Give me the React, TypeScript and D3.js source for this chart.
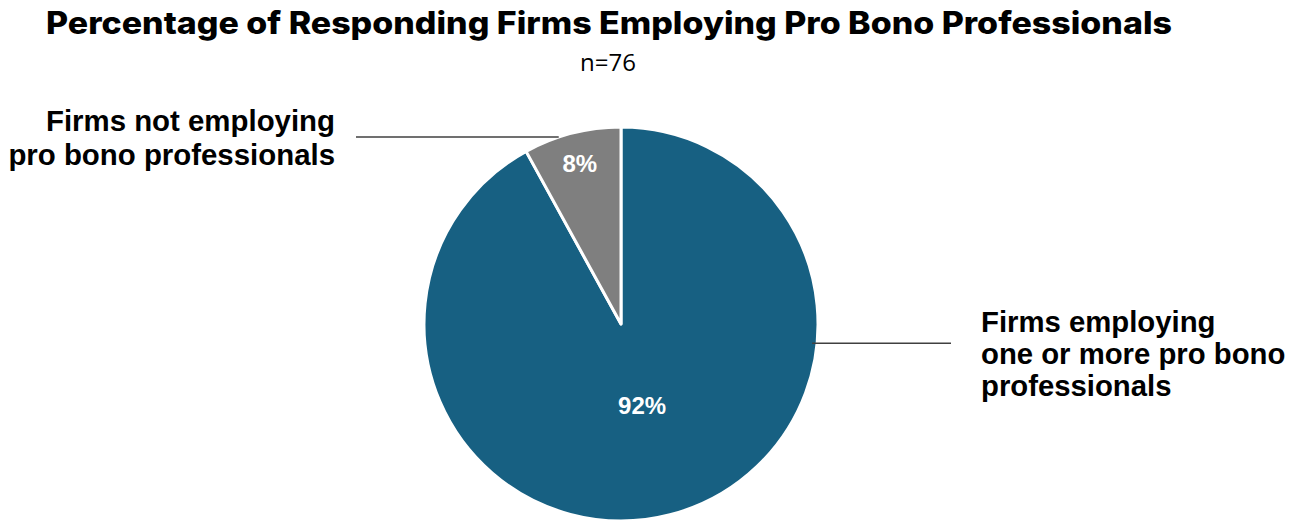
import React from "react";
import * as d3 from "d3";

const categories = ["Firms employing one or more pro bono professionals", "Firms not employing pro bono professionals"];
const values = [92, 8];
const valueLabels = ["92%", "8%"];
const colors = ["#176082", "#7f7f7f"];
const labelLines = [
  ["Firms employing", "one or more pro bono", "professionals"],
  ["Firms not employing", "pro bono professionals"],
];
const title = "Percentage of Responding Firms Employing Pro Bono Professionals";
const subtitle = "n=76";

const W = 1302;
const H = 521;
const cx = 621;
const cy = 324;
const R = 197;

export default function App() {
  const pie = d3.pie<number>().sort(null).startAngle(0).endAngle(2 * Math.PI);
  const arcs = pie(values);
  const arc = d3.arc<d3.PieArcDatum<number>>().innerRadius(0).outerRadius(R);
  const pt = (a: number, r: number) => [Math.sin(a) * r, -Math.cos(a) * r];

  const labelR = [0.43, 0.84];
  const leaders = [
    { a: arcs[0].startAngle + (arcs[0].endAngle - arcs[0].startAngle) * 0.289, r: 0.975, x2: 951 - cx },
    { a: arcs[1].startAngle + (arcs[1].endAngle - arcs[1].startAngle) * 0.36, r: 1.0, x2: 356 - cx },
  ];

  return (
    <svg width={W} height={H} style={{ display: "block", position: "absolute", left: 0, top: 0 }}>
      <rect width={W} height={H} fill="#ffffff" />
      <text
        x={609}
        y={34}
        textAnchor="middle"
        fontFamily="Inter, Roboto, sans-serif"
        fontWeight={800}
        fontSize={31}
        textLength={1126}
        lengthAdjust="spacingAndGlyphs"
        fill="#000"
      >
        {title}
      </text>
      <text x={608} y={71} textAnchor="middle" fontFamily="'Open Sans', sans-serif" fontWeight={400} fontSize={24} fill="#000">
        {subtitle}
      </text>
      <g transform={`translate(${cx},${cy})`}>
        {arcs.map((d, i) => (
          <path key={categories[i]} d={arc(d) || ""} fill={colors[i]} stroke="#ffffff" strokeWidth={3} strokeLinejoin="round" />
        ))}
        {arcs.map((d, i) => {
          const m = (d.startAngle + d.endAngle) / 2;
          const [x, y] = pt(m, R * labelR[i]);
          return (
            <text
              key={"v" + i}
              x={x}
              y={y}
              dy="0.35em"
              textAnchor="middle"
              fontFamily="'Liberation Sans', Arial, sans-serif"
              fontWeight={700}
              fontSize={24}
              fill="#ffffff"
            >
              {valueLabels[i]}
            </text>
          );
        })}
        {leaders.map((l, i) => {
          const [x1, y1] = pt(l.a, R * l.r);
          return <line key={"l" + i} x1={x1} y1={y1} x2={l.x2} y2={y1} stroke="#404040" strokeWidth={1.5} />;
        })}
      </g>
      <text fontFamily="'Liberation Sans', Arial, sans-serif" fontWeight={700} fontSize={29.3} fill="#000">
        {labelLines[0].map((s, j) => (
          <tspan key={j} x={981} y={332 + j * 32}>
            {s}
          </tspan>
        ))}
      </text>
      <text fontFamily="'Liberation Sans', Arial, sans-serif" fontWeight={700} fontSize={29.4} fill="#000" textAnchor="end">
        {labelLines[1].map((s, j) => (
          <tspan key={j} x={335} y={131 + j * 34}>
            {s}
          </tspan>
        ))}
      </text>
    </svg>
  );
}
